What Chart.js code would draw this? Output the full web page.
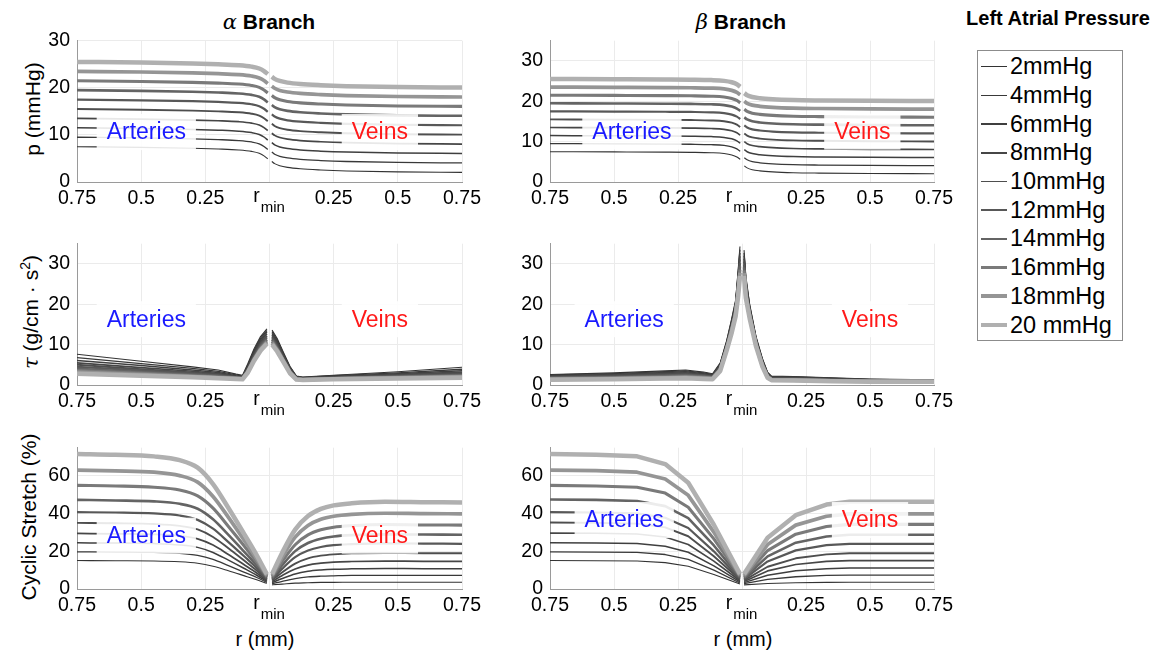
<!DOCTYPE html>
<html>
<head>
<meta charset="utf-8">
<script src="https://cdn.jsdelivr.net/npm/chart.js@4.4.1/dist/chart.umd.min.js"></script>
<style>
  body { margin: 0; background: #fff; width: 1162px; height: 656px; position: relative; overflow: hidden;
         font-family: 'Liberation Sans', Arial, Helvetica, sans-serif; color: #000; }
  canvas { position: absolute; }
  .title { position: absolute; font-weight: bold; font-size: 21px; transform: translate(-50%, -50%); white-space: nowrap; }
  .greek { font-family: 'DejaVu Serif', serif; font-style: italic; font-weight: normal; }
  .ytitle { position: absolute; font-size: 21px; transform: translate(-50%, -50%) rotate(-90deg); white-space: nowrap; }
  .xtitle { position: absolute; font-size: 20px; transform: translate(-50%, -50%); white-space: nowrap; }
  #legend { position: absolute; left: 977px; top: 50px; width: 146px; height: 291px; border: 1px solid #8c8c8c; box-sizing: border-box; }
  .row { position: absolute; left: 3px; height: 28px; display: flex; align-items: center; font-size: 23.5px; white-space: nowrap; }
  .sample { width: 26px; margin-right: 3px; }
</style>
</head>
<body>

<div class="title" style="left:269px; top:22px;"><span class="greek">α</span> Branch</div>
<div class="title" style="left:741px; top:22px;"><span class="greek">β</span> Branch</div>
<div class="title" style="left:1058px; top:18px; font-size:20px;">Left Atrial Pressure</div>

<div class="ytitle" style="left:33px; top:109px;">p (mmHg)</div>
<div class="ytitle" style="left:30px; top:312px;"><span class="greek">τ</span> (g/cm · s<sup style="font-size:14px">2</sup>)</div>
<div class="ytitle" style="left:29px; top:517px;">Cyclic Stretch (%)</div>

<div class="xtitle" style="left:265px; top:639px;">r (mm)</div>
<div class="xtitle" style="left:743px; top:639px;">r (mm)</div>

<div id="legend"></div>

<script>
// ---- series (left atrial pressure levels) ----
const seriesLabels = ['2mmHg', '4mmHg', '6mmHg', '8mmHg', '10mmHg', '12mmHg', '14mmHg', '16mmHg', '18mmHg', '20 mmHg'];
const seriesColors = ['#333333', '#393939', '#3f3f3f', '#464646', '#4e4e4e', '#585858', '#646464', '#7a7a7a', '#959595', '#b0b0b0'];
const seriesWidths = [1.1, 1.3, 1.5, 1.7, 1.9, 2.2, 2.6, 3.1, 3.7, 4.5];

// ---- x axis: distance from r_min along arteries (left) and veins (right) ----
const xTickLabels = ['0.75', '0.5', '0.25', 'r', '0.25', '0.5', '0.75'];
const xTickSubscript = 'min';

// ---- pressure, alpha branch ----
const alphaPressureArteryX = [-0.75, -0.5, -0.3, -0.2, -0.12, -0.07, -0.04, -0.02, -0.007];
const alphaPressureArteries = [
  [7.5, 7.35, 7.15, 7.0, 6.8, 6.5, 6.1, 5.5, 4.9],
  [9.5, 9.35, 9.15, 9.0, 8.8, 8.5, 8.1, 7.5, 6.9],
  [11.5, 11.35, 11.15, 11.0, 10.8, 10.5, 10.1, 9.5, 8.9],
  [13.5, 13.35, 13.15, 13.0, 12.8, 12.5, 12.1, 11.5, 10.9],
  [15.5, 15.35, 15.15, 15.0, 14.8, 14.5, 14.1, 13.5, 12.9],
  [17.5, 17.35, 17.15, 17.0, 16.8, 16.5, 16.1, 15.5, 14.9],
  [19.5, 19.35, 19.15, 19.0, 18.8, 18.5, 18.1, 17.5, 16.9],
  [21.5, 21.35, 21.15, 21.0, 20.8, 20.5, 20.1, 19.5, 18.9],
  [23.5, 23.35, 23.15, 23.0, 22.8, 22.5, 22.1, 21.5, 20.9],
  [25.5, 25.35, 25.15, 25.0, 24.8, 24.5, 24.1, 23.5, 22.9]
];
const alphaPressureVeinX = [0.009, 0.02, 0.04, 0.07, 0.12, 0.2, 0.3, 0.5, 0.75];
const alphaPressureVeins = [
  [4.35, 3.9, 3.45, 3.1, 2.8, 2.55, 2.35, 2.15, 2.05],
  [6.35, 5.9, 5.45, 5.1, 4.8, 4.55, 4.35, 4.15, 4.05],
  [8.35, 7.9, 7.45, 7.1, 6.8, 6.55, 6.35, 6.15, 6.05],
  [10.35, 9.9, 9.45, 9.1, 8.8, 8.55, 8.35, 8.15, 8.05],
  [12.35, 11.9, 11.45, 11.1, 10.8, 10.55, 10.35, 10.15, 10.05],
  [14.35, 13.9, 13.45, 13.1, 12.8, 12.55, 12.35, 12.15, 12.05],
  [16.35, 15.9, 15.45, 15.1, 14.8, 14.55, 14.35, 14.15, 14.05],
  [18.35, 17.9, 17.45, 17.1, 16.8, 16.55, 16.35, 16.15, 16.05],
  [20.35, 19.9, 19.45, 19.1, 18.8, 18.55, 18.35, 18.15, 18.05],
  [22.35, 21.9, 21.45, 21.1, 20.8, 20.55, 20.35, 20.15, 20.05]
];

// ---- pressure, beta branch ----
const betaPressureArteryX = [-0.75, -0.5, -0.3, -0.2, -0.12, -0.07, -0.04, -0.02, -0.007];
const betaPressureArteries = [
  [7.5, 7.45, 7.4, 7.35, 7.25, 7.05, 6.7, 6.2, 5.6],
  [9.5, 9.45, 9.4, 9.35, 9.25, 9.05, 8.7, 8.2, 7.6],
  [11.5, 11.45, 11.4, 11.35, 11.25, 11.05, 10.7, 10.2, 9.6],
  [13.5, 13.45, 13.4, 13.35, 13.25, 13.05, 12.7, 12.2, 11.6],
  [15.5, 15.45, 15.4, 15.35, 15.25, 15.05, 14.7, 14.2, 13.6],
  [17.5, 17.45, 17.4, 17.35, 17.25, 17.05, 16.7, 16.2, 15.6],
  [19.5, 19.45, 19.4, 19.35, 19.25, 19.05, 18.7, 18.2, 17.6],
  [21.5, 21.45, 21.4, 21.35, 21.25, 21.05, 20.7, 20.2, 19.6],
  [23.5, 23.45, 23.4, 23.35, 23.25, 23.05, 22.7, 22.2, 21.6],
  [25.5, 25.45, 25.4, 25.35, 25.25, 25.05, 24.7, 24.2, 23.6]
];
const betaPressureVeinX = [0.009, 0.02, 0.04, 0.07, 0.12, 0.2, 0.3, 0.5, 0.75];
const betaPressureVeins = [
  [4.0, 3.5, 3.05, 2.75, 2.5, 2.3, 2.2, 2.1, 2.05],
  [6.0, 5.5, 5.05, 4.75, 4.5, 4.3, 4.2, 4.1, 4.05],
  [8.0, 7.5, 7.05, 6.75, 6.5, 6.3, 6.2, 6.1, 6.05],
  [10.0, 9.5, 9.05, 8.75, 8.5, 8.3, 8.2, 8.1, 8.05],
  [12.0, 11.5, 11.05, 10.75, 10.5, 10.3, 10.2, 10.1, 10.05],
  [14.0, 13.5, 13.05, 12.75, 12.5, 12.3, 12.2, 12.1, 12.05],
  [16.0, 15.5, 15.05, 14.75, 14.5, 14.3, 14.2, 14.1, 14.05],
  [18.0, 17.5, 17.05, 16.75, 16.5, 16.3, 16.2, 16.1, 16.05],
  [20.0, 19.5, 19.05, 18.75, 18.5, 18.3, 18.2, 18.1, 18.05],
  [22.0, 21.5, 21.05, 20.75, 20.5, 20.3, 20.2, 20.1, 20.05]
];

// ---- wall shear stress, alpha branch ----
const alphaShearArteryX = [-0.75, -0.5, -0.3, -0.2, -0.13, -0.105, -0.085, -0.06, -0.035, -0.01];
const alphaShearArteries = [
  [7.6, 5.9, 4.5, 3.7, 2.7, 2.4, 5.2, 9.0, 12.0, 13.9],
  [6.8, 5.3, 4.1, 3.4, 2.5, 2.2, 4.9, 8.6, 11.6, 13.5],
  [6.1, 4.8, 3.7, 3.1, 2.3, 2.1, 4.6, 8.2, 11.2, 13.1],
  [5.5, 4.3, 3.4, 2.8, 2.1, 2.0, 4.3, 7.8, 10.8, 12.7],
  [5.0, 3.9, 3.1, 2.6, 2.0, 1.9, 4.0, 7.4, 10.3, 12.2],
  [4.5, 3.6, 2.8, 2.4, 1.9, 1.8, 3.8, 7.1, 9.9, 11.8],
  [4.0, 3.2, 2.5, 2.2, 1.8, 1.7, 3.6, 6.8, 9.5, 11.3],
  [3.6, 2.9, 2.3, 2.0, 1.7, 1.6, 3.4, 6.5, 9.1, 10.9],
  [3.2, 2.6, 2.1, 1.8, 1.6, 1.5, 3.2, 6.2, 8.8, 10.5],
  [2.8, 2.3, 1.9, 1.7, 1.5, 1.4, 3.0, 6.0, 8.5, 10.2]
];
const alphaShearVeinX = [0.01, 0.03, 0.055, 0.08, 0.105, 0.13, 0.25, 0.5, 0.75];
const alphaShearVeins = [
  [13.6, 11.5, 8.0, 4.6, 2.2, 2.0, 2.4, 3.3, 4.4],
  [13.2, 11.1, 7.7, 4.4, 2.1, 1.9, 2.3, 3.0, 3.9],
  [12.8, 10.7, 7.4, 4.2, 2.0, 1.8, 2.1, 2.8, 3.5],
  [12.4, 10.3, 7.1, 4.0, 1.9, 1.7, 2.0, 2.6, 3.2],
  [12.0, 9.9, 6.8, 3.8, 1.8, 1.6, 1.9, 2.4, 2.9],
  [11.6, 9.5, 6.5, 3.6, 1.7, 1.5, 1.8, 2.2, 2.6],
  [11.2, 9.2, 6.2, 3.4, 1.6, 1.4, 1.7, 2.1, 2.4],
  [10.8, 8.9, 6.0, 3.2, 1.5, 1.35, 1.6, 1.9, 2.2],
  [10.4, 8.6, 5.8, 3.0, 1.4, 1.3, 1.5, 1.8, 2.0],
  [10.0, 8.3, 5.6, 2.9, 1.35, 1.25, 1.4, 1.6, 1.8]
];

// ---- wall shear stress, beta branch ----
const betaShearArteryX = [-0.75, -0.5, -0.3, -0.22, -0.15, -0.115, -0.085, -0.06, -0.04, -0.025, -0.015, -0.008];
const betaShearArteries = [
  [2.6, 3.0, 3.5, 3.7, 3.2, 2.8, 5.5, 11.0, 16.5, 21.0, 28.5, 34.3],
  [2.5, 2.8, 3.3, 3.5, 3.0, 2.6, 5.3, 10.7, 16.1, 20.6, 27.8, 33.5],
  [2.3, 2.6, 3.1, 3.3, 2.8, 2.5, 5.1, 10.4, 15.7, 20.1, 27.1, 32.7],
  [2.2, 2.5, 2.9, 3.0, 2.6, 2.3, 4.8, 10.2, 15.3, 19.7, 26.3, 31.9],
  [2.0, 2.3, 2.7, 2.8, 2.4, 2.2, 4.6, 9.9, 14.9, 19.2, 25.6, 31.1],
  [1.9, 2.1, 2.4, 2.6, 2.3, 2.0, 4.4, 9.6, 14.6, 18.8, 24.9, 30.2],
  [1.7, 1.9, 2.2, 2.4, 2.1, 1.9, 4.2, 9.3, 14.2, 18.3, 24.2, 29.4],
  [1.6, 1.8, 2.0, 2.1, 1.9, 1.7, 3.9, 9.1, 13.8, 17.9, 23.4, 28.6],
  [1.4, 1.6, 1.8, 1.9, 1.7, 1.6, 3.7, 8.8, 13.4, 17.4, 22.7, 27.8],
  [1.3, 1.4, 1.6, 1.7, 1.5, 1.4, 3.5, 8.5, 13.0, 17.0, 22.0, 27.0]
];
const betaShearVeinX = [0.008, 0.015, 0.03, 0.055, 0.08, 0.1, 0.115, 0.2, 0.35, 0.5, 0.75];
const betaShearVeins = [
  [33.4, 27.0, 20.0, 12.0, 6.5, 3.2, 2.2, 2.1, 1.8, 1.5, 1.3],
  [32.7, 26.4, 19.6, 11.7, 6.3, 3.0, 2.1, 2.0, 1.7, 1.4, 1.2],
  [32.0, 25.8, 19.2, 11.4, 6.1, 2.9, 2.0, 1.9, 1.6, 1.3, 1.2],
  [31.3, 25.2, 18.8, 11.2, 5.8, 2.7, 1.9, 1.8, 1.5, 1.3, 1.1],
  [30.6, 24.6, 18.4, 10.9, 5.6, 2.6, 1.8, 1.7, 1.4, 1.2, 1.1],
  [29.8, 23.9, 18.1, 10.6, 5.4, 2.4, 1.6, 1.5, 1.3, 1.1, 1.0],
  [29.1, 23.3, 17.7, 10.3, 5.2, 2.3, 1.5, 1.4, 1.2, 1.0, 1.0],
  [28.4, 22.7, 17.3, 10.1, 4.9, 2.1, 1.4, 1.3, 1.1, 1.0, 0.9],
  [27.7, 22.1, 16.9, 9.8, 4.7, 2.0, 1.3, 1.2, 1.0, 0.9, 0.9],
  [27.0, 21.5, 16.5, 9.5, 4.5, 1.8, 1.2, 1.1, 0.9, 0.8, 0.8]
];

// ---- cyclic stretch, alpha branch ----
const alphaStretchArteryX = [-0.75, -0.6, -0.45, -0.35, -0.28, -0.22, -0.16, -0.1, -0.05, -0.01];
const alphaStretchArteries = [
  [15.1, 15.0, 14.9, 14.5, 13.7, 12.1, 9.7, 7.1, 4.9, 3.0],
  [19.7, 19.6, 19.4, 18.9, 17.8, 15.7, 12.4, 9.0, 6.1, 3.5],
  [24.5, 24.4, 24.1, 23.4, 22.1, 19.4, 15.3, 11.0, 7.3, 4.0],
  [29.5, 29.3, 29.0, 28.2, 26.6, 23.3, 18.3, 13.0, 8.5, 4.5],
  [35.1, 34.9, 34.5, 33.5, 31.6, 27.6, 21.6, 15.2, 9.8, 5.0],
  [40.8, 40.6, 40.1, 39.0, 36.7, 32.0, 24.9, 17.5, 11.2, 5.5],
  [47.3, 47.0, 46.5, 45.2, 42.6, 37.0, 28.7, 20.0, 12.6, 6.0],
  [55.0, 54.7, 54.0, 52.5, 49.4, 42.9, 33.2, 23.1, 14.3, 6.6],
  [63.1, 62.7, 62.0, 60.2, 56.7, 49.1, 38.0, 26.2, 16.1, 7.2],
  [71.7, 71.3, 70.4, 68.4, 64.4, 55.7, 43.0, 29.5, 18.0, 7.8]
];
const alphaStretchVeinX = [0.01, 0.05, 0.1, 0.15, 0.2, 0.25, 0.32, 0.45, 0.6, 0.75];
const alphaStretchVeins = [
  [2.2, 2.6, 3.1, 3.3, 3.5, 3.5, 3.6, 3.6, 3.6, 3.6],
  [2.8, 4.1, 5.5, 6.4, 6.8, 7.0, 7.2, 7.2, 7.2, 7.2],
  [3.4, 5.6, 8.0, 9.4, 10.1, 10.5, 10.7, 10.9, 10.8, 10.8],
  [4.0, 7.2, 10.6, 12.7, 13.7, 14.3, 14.6, 14.8, 14.7, 14.7],
  [4.6, 8.9, 13.5, 16.3, 17.7, 18.4, 18.9, 19.1, 19.0, 19.0],
  [5.2, 10.8, 16.9, 20.4, 22.3, 23.3, 23.8, 24.2, 24.1, 24.0],
  [5.8, 12.7, 20.1, 24.4, 26.7, 27.9, 28.6, 29.0, 28.9, 28.8],
  [6.4, 14.7, 23.5, 28.7, 31.4, 32.8, 33.6, 34.2, 34.0, 33.9],
  [7.2, 17.0, 27.5, 33.7, 37.0, 38.6, 39.6, 40.2, 40.0, 39.9],
  [8.0, 19.4, 31.5, 38.7, 42.5, 44.4, 45.5, 46.3, 46.1, 45.9]
];

// ---- cyclic stretch, beta branch ----
const betaStretchArteryX = [-0.75, -0.57, -0.41, -0.3, -0.21, -0.11, -0.008];
const betaStretchArteries = [
  [15.1, 15.0, 14.9, 14.0, 12.1, 7.7, 2.6],
  [19.7, 19.6, 19.4, 18.3, 15.7, 10.0, 3.2],
  [24.5, 24.4, 24.1, 22.7, 19.5, 12.3, 3.8],
  [29.7, 29.6, 29.2, 27.6, 23.6, 14.8, 4.4],
  [35.3, 35.1, 34.7, 32.7, 28.0, 17.4, 5.0],
  [40.8, 40.6, 40.1, 37.8, 32.4, 20.0, 5.6],
  [47.5, 47.3, 46.7, 44.0, 37.6, 23.1, 6.2],
  [55.0, 54.7, 54.0, 50.9, 43.4, 26.6, 6.8],
  [63.1, 62.8, 62.0, 58.4, 49.7, 30.2, 7.4],
  [71.7, 71.3, 70.4, 66.3, 56.4, 34.1, 8.0]
];
const betaStretchVeinX = [0.008, 0.1, 0.21, 0.33, 0.42, 0.75];
const betaStretchVeins = [
  [2.2, 2.9, 3.3, 3.5, 3.6, 3.6],
  [2.8, 5.1, 6.5, 7.2, 7.4, 7.4],
  [3.4, 7.3, 9.7, 10.8, 11.1, 11.1],
  [4.0, 9.6, 13.0, 14.7, 15.1, 15.1],
  [4.6, 11.8, 16.3, 18.4, 19.0, 19.0],
  [5.2, 14.6, 20.5, 23.3, 24.0, 24.0],
  [5.8, 17.3, 24.6, 27.9, 28.8, 28.8],
  [6.4, 20.4, 29.1, 33.2, 34.3, 34.3],
  [7.2, 23.6, 33.9, 38.6, 39.9, 39.9],
  [8.0, 27.2, 39.2, 44.8, 46.3, 46.3]
];

// ---- region labels: [x, y] in data units for "Arteries" and "Veins" ----
const arteriesLabelPos = [[-0.48, 10.6], [-0.43, 12.5], [-0.48, 16.3], [-0.46, 16.3], [-0.48, 28.3], [-0.46, 36.6]];
const veinsLabelPos = [[0.43, 10.6], [0.47, 12.5], [0.43, 16.3], [0.50, 16.3], [0.43, 28.3], [0.50, 36.6]];

const FONT = "'Liberation Sans', Arial, Helvetica, sans-serif";
const TICK_SIZE = 19.5;

// Legend
const legend = document.getElementById('legend');
seriesLabels.forEach((label, i) => {
  const row = document.createElement('div');
  row.className = 'row';
  row.style.top = (66.7 + 28.7 * i - 51 - 14) + 'px';
  const s = document.createElement('div');
  s.className = 'sample';
  s.style.height = Math.min(seriesWidths[i], 4) + 'px';
  s.style.background = seriesColors[i];
  const t = document.createElement('span');
  t.textContent = label;
  row.appendChild(s); row.appendChild(t);
  legend.appendChild(row);
});

// Draws the subscripted r_min label under x = 0
const rMinPlugin = {
  id: 'rMinTick',
  afterDraw(chart) {
    const xs = chart.scales.x, ctx = chart.ctx;
    const px = xs.getPixelForValue(0);
    ctx.save();
    ctx.fillStyle = '#000';
    ctx.textBaseline = 'top';
    ctx.textAlign = 'left';
    ctx.font = TICK_SIZE + 'px ' + FONT;
    const wr = ctx.measureText(xTickLabels[3]).width;
    ctx.font = '15px ' + FONT;
    const wm = ctx.measureText(xTickSubscript).width;
    const x0 = px - (wr + wm) / 2 - 1;
    ctx.font = TICK_SIZE + 'px ' + FONT;
    ctx.fillText(xTickLabels[3], x0, xs.top + 5);
    ctx.font = '15px ' + FONT;
    ctx.fillText(xTickSubscript, x0 + wr + 1, xs.top + 18);
    ctx.restore();
  }
};

function regionTextPlugin(artPos, veinPos) {
  const items = [
    { text: 'Arteries', color: '#1a1aff', p: artPos },
    { text: 'Veins', color: '#ff1a1a', p: veinPos }
  ];
  return {
    id: 'regionText',
    afterDatasetsDraw(chart) {
      const { ctx, scales: { x, y } } = chart;
      ctx.save();
      ctx.font = '23px ' + FONT;
      ctx.textAlign = 'center';
      ctx.textBaseline = 'middle';
      for (const it of items) {
        const px = x.getPixelForValue(it.p[0]), py = y.getPixelForValue(it.p[1]);
        const w = ctx.measureText(it.text).width + 20, h = 36;
        ctx.fillStyle = 'rgba(255,255,255,0.88)';
        ctx.fillRect(px - w / 2, py - h / 2, w, h);
        ctx.fillStyle = it.color;
        ctx.fillText(it.text, px, py + 1);
      }
      ctx.restore();
    }
  };
}

// Higher pressures are drawn over lower ones (lower `order` is painted last)
function buildDatasets(artX, art, venX, ven, smooth) {
  return seriesLabels.map((label, i) => ({
    label,
    order: seriesLabels.length - 1 - i,
    data: [
      ...artX.map((x, j) => ({ x, y: art[i][j] })),
      { x: 0, y: null },
      ...venX.map((x, j) => ({ x, y: ven[i][j] }))
    ],
    borderColor: seriesColors[i],
    borderWidth: seriesWidths[i],
    pointRadius: 0,
    fill: false,
    spanGaps: false,
    borderJoinStyle: 'round',
    tension: 0,
    cubicInterpolationMode: smooth ? 'monotone' : 'default'
  }));
}

const panels = [
  { L: 77,  T: 36,  R: 462, B: 182, ymax: 30, step: 10, sets: [alphaPressureArteryX, alphaPressureArteries, alphaPressureVeinX, alphaPressureVeins], smooth: true },
  { L: 550, T: 36,  R: 934, B: 182, ymax: 35, step: 10, sets: [betaPressureArteryX, betaPressureArteries, betaPressureVeinX, betaPressureVeins], smooth: true },
  { L: 77,  T: 239, R: 462, B: 385, ymax: 35, step: 10, sets: [alphaShearArteryX, alphaShearArteries, alphaShearVeinX, alphaShearVeins], smooth: false },
  { L: 550, T: 239, R: 934, B: 385, ymax: 35, step: 10, sets: [betaShearArteryX, betaShearArteries, betaShearVeinX, betaShearVeins], smooth: false },
  { L: 77,  T: 443, R: 462, B: 589, ymax: 75, step: 20, sets: [alphaStretchArteryX, alphaStretchArteries, alphaStretchVeinX, alphaStretchVeins], smooth: true },
  { L: 550, T: 443, R: 934, B: 589, ymax: 75, step: 20, sets: [betaStretchArteryX, betaStretchArteries, betaStretchVeinX, betaStretchVeins], smooth: false }
];

const YW = 50, PT = 14, PR = 24, XH = 44;
panels.forEach((p, k) => {
  const c = document.createElement('canvas');
  const w = p.R - p.L + YW + PR, h = p.B - p.T + PT + XH;
  c.width = w; c.height = h;
  c.style.left = (p.L - YW) + 'px';
  c.style.top = (p.T - PT) + 'px';
  c.style.width = w + 'px'; c.style.height = h + 'px';
  document.body.appendChild(c);

  new Chart(c, {
    type: 'line',
    data: { datasets: buildDatasets(p.sets[0], p.sets[1], p.sets[2], p.sets[3], p.smooth) },
    options: {
      responsive: false,
      animation: false,
      devicePixelRatio: 1,
      layout: { padding: { top: PT, right: PR, left: 0, bottom: 0 } },
      plugins: { legend: { display: false }, tooltip: { enabled: false } },
      scales: {
        x: {
          type: 'linear', min: -0.75, max: 0.75,
          afterFit: s => { s.height = XH; },
          grid: { color: '#ebebeb', drawTicks: false },
          border: { color: '#9a9a9a', width: 1 },
          ticks: {
            stepSize: 0.25, padding: 5, color: '#000', maxRotation: 0, autoSkip: false,
            font: { family: FONT, size: TICK_SIZE },
            callback: (v, i) => (i === 3 ? '' : xTickLabels[i])
          }
        },
        y: {
          min: 0, max: p.ymax,
          afterFit: s => { s.width = YW; },
          grid: { color: '#ebebeb', drawTicks: false },
          border: { color: '#9a9a9a', width: 1 },
          ticks: { stepSize: p.step, includeBounds: false, padding: 7, color: '#000', font: { family: FONT, size: TICK_SIZE } }
        }
      }
    },
    plugins: [rMinPlugin, regionTextPlugin(arteriesLabelPos[k], veinsLabelPos[k])]
  });
});
</script>
</body>
</html>
